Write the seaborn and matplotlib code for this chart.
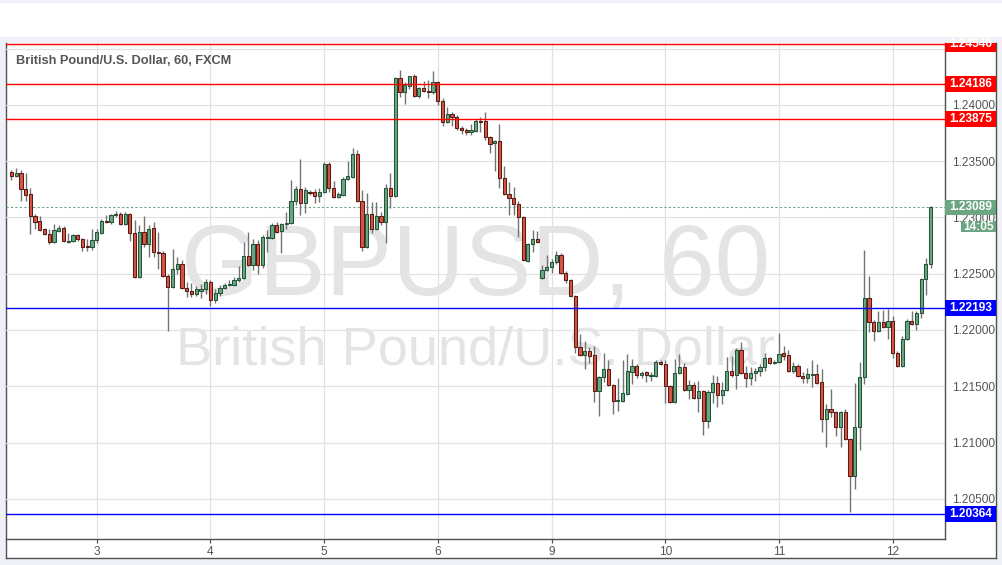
import numpy as np
import pandas as pd
import seaborn as sns
import matplotlib.pyplot as plt
from matplotlib.patches import Rectangle
import matplotlib.transforms as mtransforms

# ======================
# 1. Data (GBPUSD, 60 min)
# ======================
opens = [
    1.2340, 1.2337, 1.2339, 1.2325, 1.2321, 1.2301, 1.2297, 1.2290, 1.2285, 1.2278,
    1.2288, 1.2291, 1.2278, 1.2279, 1.2284, 1.2281, 1.2275, 1.2274, 1.2280, 1.2286,
    1.2297, 1.2296, 1.2302, 1.2303, 1.2294, 1.2303, 1.2286, 1.2247, 1.2287, 1.2276,
    1.2291, 1.2269, 1.2268, 1.2248, 1.2238, 1.2254, 1.2259, 1.2237, 1.2235, 1.2232,
    1.2235, 1.2236, 1.2243, 1.2227, 1.2233, 1.2237, 1.2240, 1.2240, 1.2244, 1.2246,
    1.2266, 1.2258, 1.2276, 1.2258, 1.2282, 1.2282, 1.2293, 1.2288, 1.2294, 1.2295,
    1.2315, 1.2325, 1.2313, 1.2323, 1.2323, 1.2319, 1.2323, 1.2347, 1.2326, 1.2318,
    1.2320, 1.2334, 1.2336, 1.2356, 1.2315, 1.2274, 1.2303, 1.2290, 1.2301, 1.2296,
    1.2326, 1.2319, 1.2424, 1.2411, 1.2417, 1.2426, 1.2408, 1.2415, 1.2412, 1.2411,
    1.2420, 1.2403, 1.2385, 1.2392, 1.2389, 1.2379, 1.2378, 1.2376, 1.2377, 1.2386,
    1.2386, 1.2371, 1.2366, 1.2368, 1.2335, 1.2321, 1.2317, 1.2312, 1.2300, 1.2261,
    1.2276, 1.2281, 1.2246, 1.2253, 1.2256, 1.2260, 1.2267, 1.2251, 1.2244, 1.2230,
    1.2185, 1.2178, 1.2181, 1.2178, 1.2146, 1.2158, 1.2165, 1.2151, 1.2137, 1.2137,
    1.2143, 1.2163, 1.2168, 1.2160, 1.2163, 1.2159, 1.2159, 1.2172, 1.2170, 1.2150,
    1.2136, 1.2162, 1.2167, 1.2147, 1.2151, 1.2140, 1.2146, 1.2119, 1.2145, 1.2153,
    1.2142, 1.2147, 1.2164, 1.2160, 1.2182, 1.2162, 1.2157, 1.2162, 1.2164, 1.2167,
    1.2175, 1.2171, 1.2172, 1.2180, 1.2178, 1.2164, 1.2168, 1.2159, 1.2157, 1.2160,
    1.2161, 1.2154, 1.2121, 1.2130, 1.2127, 1.2114, 1.2127, 1.2103, 1.2070, 1.2114,
    1.2158, 1.2228, 1.2207, 1.2199, 1.2207, 1.2203, 1.2208, 1.2180, 1.2168, 1.2192,
    1.2208, 1.2205, 1.2215, 1.2245, 1.2259,
]
highs = [
    1.2342, 1.2344, 1.2342, 1.2339, 1.2326, 1.2303, 1.2301, 1.2291, 1.2290, 1.2294,
    1.2293, 1.2292, 1.2286, 1.2285, 1.2285, 1.2282, 1.2281, 1.2290, 1.2290, 1.2299,
    1.2302, 1.2303, 1.2306, 1.2305, 1.2305, 1.2304, 1.2298, 1.2293, 1.2301, 1.2293,
    1.2296, 1.2287, 1.2270, 1.2250, 1.2272, 1.2265, 1.2262, 1.2243, 1.2242, 1.2239,
    1.2241, 1.2245, 1.2244, 1.2236, 1.2240, 1.2242, 1.2244, 1.2247, 1.2257, 1.2278,
    1.2287, 1.2281, 1.2280, 1.2284, 1.2289, 1.2295, 1.2296, 1.2295, 1.2305, 1.2333,
    1.2328, 1.2352, 1.2327, 1.2324, 1.2325, 1.2326, 1.2349, 1.2349, 1.2332, 1.2323,
    1.2336, 1.2350, 1.2362, 1.2360, 1.2324, 1.2322, 1.2314, 1.2314, 1.2305, 1.2330,
    1.2339, 1.2425, 1.2431, 1.2420, 1.2426, 1.2427, 1.2416, 1.2421, 1.2422, 1.2430,
    1.2421, 1.2406, 1.2398, 1.2394, 1.2391, 1.2381, 1.2379, 1.2383, 1.2387, 1.2389,
    1.2394, 1.2372, 1.2369, 1.2383, 1.2346, 1.2331, 1.2327, 1.2315, 1.2301, 1.2277,
    1.2289, 1.2288, 1.2258, 1.2267, 1.2263, 1.2270, 1.2268, 1.2252, 1.2245, 1.2231,
    1.2196, 1.2190, 1.2185, 1.2186, 1.2159, 1.2180, 1.2173, 1.2152, 1.2157, 1.2173,
    1.2179, 1.2174, 1.2170, 1.2164, 1.2164, 1.2163, 1.2173, 1.2173, 1.2173, 1.2151,
    1.2174, 1.2179, 1.2171, 1.2156, 1.2154, 1.2155, 1.2147, 1.2147, 1.2160, 1.2159,
    1.2154, 1.2176, 1.2177, 1.2184, 1.2189, 1.2168, 1.2167, 1.2166, 1.2170, 1.2180,
    1.2176, 1.2173, 1.2197, 1.2186, 1.2182, 1.2172, 1.2170, 1.2163, 1.2166, 1.2173,
    1.2170, 1.2165, 1.2134, 1.2148, 1.2128, 1.2128, 1.2130, 1.2104, 1.2153, 1.2172,
    1.2271, 1.2248, 1.2209, 1.2217, 1.2218, 1.2219, 1.2212, 1.2181, 1.2195, 1.2210,
    1.2217, 1.2217, 1.2246, 1.2264, 1.2310,
]
lows = [
    1.2333, 1.2336, 1.2315, 1.2315, 1.2285, 1.2290, 1.2288, 1.2284, 1.2276, 1.2277,
    1.2287, 1.2278, 1.2277, 1.2278, 1.2279, 1.2270, 1.2270, 1.2271, 1.2277, 1.2285,
    1.2295, 1.2294, 1.2300, 1.2293, 1.2293, 1.2279, 1.2246, 1.2246, 1.2274, 1.2265,
    1.2265, 1.2254, 1.2247, 1.2199, 1.2237, 1.2250, 1.2236, 1.2229, 1.2229, 1.2230,
    1.2228, 1.2232, 1.2221, 1.2224, 1.2230, 1.2236, 1.2239, 1.2239, 1.2243, 1.2245,
    1.2257, 1.2253, 1.2250, 1.2255, 1.2269, 1.2281, 1.2286, 1.2268, 1.2290, 1.2294,
    1.2311, 1.2302, 1.2304, 1.2320, 1.2313, 1.2314, 1.2322, 1.2323, 1.2317, 1.2317,
    1.2319, 1.2333, 1.2335, 1.2314, 1.2270, 1.2273, 1.2286, 1.2289, 1.2293, 1.2277,
    1.2308, 1.2318, 1.2407, 1.2401, 1.2414, 1.2407, 1.2406, 1.2411, 1.2406, 1.2410,
    1.2400, 1.2381, 1.2384, 1.2381, 1.2378, 1.2374, 1.2373, 1.2373, 1.2376, 1.2376,
    1.2369, 1.2357, 1.2341, 1.2326, 1.2320, 1.2302, 1.2302, 1.2283, 1.2261, 1.2260,
    1.2269, 1.2277, 1.2245, 1.2252, 1.2251, 1.2259, 1.2250, 1.2242, 1.2229, 1.2180,
    1.2177, 1.2165, 1.2171, 1.2136, 1.2124, 1.2154, 1.2150, 1.2125, 1.2128, 1.2136,
    1.2142, 1.2152, 1.2157, 1.2157, 1.2154, 1.2155, 1.2158, 1.2169, 1.2135, 1.2135,
    1.2135, 1.2161, 1.2146, 1.2139, 1.2139, 1.2127, 1.2107, 1.2113, 1.2135, 1.2132,
    1.2134, 1.2146, 1.2158, 1.2148, 1.2161, 1.2149, 1.2151, 1.2155, 1.2159, 1.2164,
    1.2170, 1.2170, 1.2171, 1.2173, 1.2163, 1.2162, 1.2158, 1.2153, 1.2153, 1.2149,
    1.2152, 1.2109, 1.2096, 1.2123, 1.2106, 1.2096, 1.2102, 1.2038, 1.2059, 1.2093,
    1.2152, 1.2198, 1.2190, 1.2198, 1.2202, 1.2192, 1.2175, 1.2167, 1.2167, 1.2191,
    1.2204, 1.2200, 1.2211, 1.2231, 1.2255,
]
closes = [
    1.2337, 1.2339, 1.2325, 1.2320, 1.2301, 1.2296, 1.2289, 1.2285, 1.2278, 1.2289,
    1.2291, 1.2279, 1.2279, 1.2284, 1.2281, 1.2274, 1.2274, 1.2280, 1.2287, 1.2297,
    1.2296, 1.2302, 1.2303, 1.2294, 1.2303, 1.2286, 1.2247, 1.2287, 1.2276, 1.2290,
    1.2269, 1.2268, 1.2248, 1.2238, 1.2254, 1.2259, 1.2237, 1.2235, 1.2232, 1.2236,
    1.2236, 1.2243, 1.2227, 1.2233, 1.2237, 1.2240, 1.2241, 1.2244, 1.2246, 1.2266,
    1.2258, 1.2276, 1.2258, 1.2283, 1.2283, 1.2293, 1.2287, 1.2294, 1.2295, 1.2315,
    1.2325, 1.2313, 1.2324, 1.2322, 1.2319, 1.2323, 1.2347, 1.2326, 1.2318, 1.2321,
    1.2334, 1.2337, 1.2356, 1.2315, 1.2274, 1.2303, 1.2290, 1.2301, 1.2296, 1.2326,
    1.2319, 1.2424, 1.2411, 1.2418, 1.2426, 1.2408, 1.2415, 1.2412, 1.2411, 1.2420,
    1.2403, 1.2385, 1.2392, 1.2389, 1.2379, 1.2378, 1.2376, 1.2378, 1.2386, 1.2385,
    1.2371, 1.2365, 1.2368, 1.2335, 1.2321, 1.2317, 1.2312, 1.2300, 1.2262, 1.2276,
    1.2281, 1.2278, 1.2253, 1.2256, 1.2260, 1.2267, 1.2251, 1.2244, 1.2230, 1.2185,
    1.2178, 1.2181, 1.2177, 1.2146, 1.2158, 1.2165, 1.2151, 1.2137, 1.2138, 1.2144,
    1.2164, 1.2168, 1.2160, 1.2162, 1.2160, 1.2160, 1.2172, 1.2170, 1.2150, 1.2136,
    1.2162, 1.2167, 1.2147, 1.2151, 1.2140, 1.2146, 1.2119, 1.2145, 1.2153, 1.2142,
    1.2147, 1.2164, 1.2160, 1.2182, 1.2162, 1.2157, 1.2162, 1.2164, 1.2167, 1.2175,
    1.2171, 1.2172, 1.2179, 1.2177, 1.2164, 1.2168, 1.2159, 1.2157, 1.2161, 1.2161,
    1.2153, 1.2121, 1.2130, 1.2127, 1.2114, 1.2127, 1.2103, 1.2070, 1.2114, 1.2158,
    1.2228, 1.2207, 1.2199, 1.2207, 1.2203, 1.2208, 1.2180, 1.2168, 1.2192, 1.2208,
    1.2205, 1.2215, 1.2245, 1.2259, 1.23089,
]

day_labels = ['3', '4', '5', '6', '9', '10', '11', '12']
day_bars = [18, 42, 66, 90, 114, 138, 162, 186]

red_levels = [1.24540, 1.24186, 1.23875]
blue_levels = [1.22193, 1.20364]
last_price = 1.23089
countdown = '14:05'
price_ticks = [1.205, 1.210, 1.215, 1.220, 1.225, 1.230, 1.235, 1.240, 1.245]

title_text = 'British Pound/U.S. Dollar, 60, FXCM'
symbol_text = 'GBPUSD, 60'
name_text = 'British Pound/U.S. Dollar'

df = pd.DataFrame({'open': opens, 'high': highs, 'low': lows, 'close': closes})
df['bar'] = np.arange(len(df))
df['up'] = df['close'] >= df['open']

# ======================
# 2. Style
# ======================
sns.set_theme(style='white')
plt.rcParams['font.family'] = ['Liberation Sans', 'DejaVu Sans']

UP, DOWN = '#6ba583', '#d75442'
UP_EDGE, DOWN_EDGE = '#225437', '#5b1a13'
WICK = '#737375'
GRID = '#e2e2e2'
FRAME = '#505050'
TXT = '#555555'
BG = '#eef1f5'

W, H = 1002, 565
fig = plt.figure(figsize=(W / 100, H / 100), dpi=100, facecolor=BG)
fig.patches.append(Rectangle((0, (H - 37) / H), 1, 34 / H, transform=fig.transFigure,
                             facecolor='white', edgecolor='none', zorder=0))

# pixel geometry of the panel
px_left, px_plot_right, px_right = 6.3, 945, 995.7
px_top, px_plot_bottom, px_bottom = 43, 539.3, 558.3

panel = fig.add_axes([px_left / W, (H - px_bottom) / H, (px_right - px_left) / W,
                      (px_bottom - px_top) / H])
panel.set_facecolor('white')
panel.set_xticks([])
panel.set_yticks([])
for side in ['left', 'right', 'bottom']:
    panel.spines[side].set_color(FRAME)
    panel.spines[side].set_linewidth(1.0)
panel.spines['top'].set_visible(False)

rect_main = [px_left / W, (H - px_plot_bottom) / H, (px_plot_right - px_left) / W,
             (px_plot_bottom - px_top) / H]
ax = fig.add_axes(rect_main)
ax.set_facecolor('none')

ymin, ymax = 1.20141, 1.24549
xmin, xmax = -1.08, 197.04
ax.set_xlim(xmin, xmax)
ax.set_ylim(ymin, ymax)

# grid
for b in day_bars:
    ax.axvline(b, color=GRID, lw=0.9, zorder=0)
for p in price_ticks:
    ax.axhline(p, color=GRID, lw=0.9, zorder=0)

# watermark
blend = mtransforms.blended_transform_factory(ax.transAxes, ax.transData)
ax.text(0.5, 1.22311, symbol_text, transform=blend,
        ha='center', va='baseline', fontsize=72, color='#e4e4e4', zorder=1)
ax.text(0.5, 1.21695, name_text, transform=blend,
        ha='center', va='baseline', fontsize=39, color='#e4e4e4', zorder=1)

# current price dotted line
ax.axhline(last_price, color=UP, lw=0.8, ls=(0, (2, 2)), zorder=2)

# ======================
# 3. Candles
# ======================
ax.vlines(df['bar'], df['low'], df['high'], color=WICK, lw=1.0, zorder=3)
body_bottom = df[['open', 'close']].min(axis=1)
body_height = (df['close'] - df['open']).abs().clip(lower=0.00003)
ax.bar(df['bar'], body_height, bottom=body_bottom, width=0.68,
       color=np.where(df['up'], UP, DOWN), edgecolor=np.where(df['up'], UP_EDGE, DOWN_EDGE),
       linewidth=0.75, zorder=4)

# levels
for lv in red_levels:
    ax.axhline(lv, color='#ff0000', lw=1.0, zorder=5)
for lv in blue_levels:
    ax.axhline(lv, color='#0000ff', lw=1.0, zorder=5)

# axes cosmetics
ax.set_xticks(day_bars)
ax.set_xticklabels(day_labels)
ax.yaxis.tick_right()
ax.set_yticks(price_ticks)
ax.set_yticklabels([f'{p:.5f}' if p < 1.2445 else '' for p in price_ticks])
ax.tick_params(axis='both', colors=FRAME, labelcolor=TXT, labelsize=8.6, length=3, width=0.9, pad=2)
ax.tick_params(axis='x', bottom=True)
ax.tick_params(axis='y', right=True, left=False)
sns.despine(ax=ax, top=True, left=True, right=False, bottom=False)
ax.spines['right'].set_color(FRAME)
ax.spines['bottom'].set_color(FRAME)
ax.spines['right'].set_linewidth(1.0)
ax.spines['bottom'].set_linewidth(1.0)
ax.grid(False)

ax.text(0.010, 0.9647, title_text, transform=ax.transAxes, ha='left', va='center',
        fontsize=9.2, fontweight='bold', color=TXT, zorder=6)

# ======================
# 4. Price scale labels
# ======================
axr = fig.add_axes([px_plot_right / W, (H - px_plot_bottom) / H, (px_right - px_plot_right) / W,
                    (px_plot_bottom - px_top) / H])
axr.set_xlim(0, 1)
axr.set_ylim(ymin, ymax)
axr.axis('off')

half = 0.00071
for lv, col in [(v, '#ff0000') for v in red_levels] + [(v, '#0000ff') for v in blue_levels]:
    axr.add_patch(Rectangle((0, lv - half), 1, 2 * half, facecolor=col, edgecolor='none'))
    axr.text(0.5, lv, f'{lv:.5f}', ha='center', va='center', color='white',
             fontsize=8.6, fontweight='bold')

axr.add_patch(Rectangle((0, last_price - 0.00067), 1, 0.00134, facecolor=UP, edgecolor='none'))
axr.text(0.5, last_price, f'{last_price:.5f}', ha='center', va='center', color='white',
         fontsize=8.6, fontweight='bold')
axr.add_patch(Rectangle((0.316, 1.22919 - 0.000515), 0.684, 0.00103, facecolor=UP, edgecolor='none'))
axr.text(0.658, 1.22919, countdown, ha='center', va='center', color='white',
         fontsize=8.6, fontweight='bold')

fig.savefig('out.png', dpi=100, facecolor=BG)
